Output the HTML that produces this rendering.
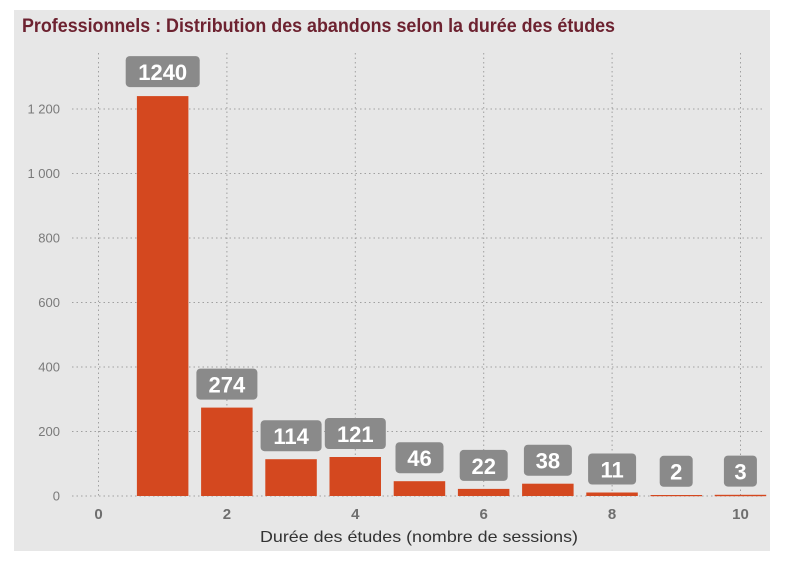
<!DOCTYPE html>
<html><head><meta charset="utf-8"><style>
html,body{margin:0;padding:0;background:#fff;}
svg{display:block;}
</style></head><body>
<svg width="785" height="564" viewBox="0 0 785 564" xmlns="http://www.w3.org/2000/svg" font-family="'Liberation Sans', sans-serif">
<rect x="0" y="0" width="785" height="564" fill="#ffffff"/>
<rect x="14" y="10" width="756" height="541" fill="#e7e7e7"/>
<text x="22" y="32" font-size="19" font-weight="bold" fill="#6d2230" textLength="593" lengthAdjust="spacingAndGlyphs">Professionnels : Distribution des abandons selon la durée des études</text>
<g stroke="#a0a0a0" stroke-width="1" stroke-dasharray="1.5,3" fill="none">
<line x1="72" y1="109" x2="762" y2="109"/>
<line x1="72" y1="173.5" x2="762" y2="173.5"/>
<line x1="72" y1="238" x2="762" y2="238"/>
<line x1="72" y1="302.5" x2="762" y2="302.5"/>
<line x1="72" y1="367" x2="762" y2="367"/>
<line x1="72" y1="431.5" x2="762" y2="431.5"/>
<line x1="72" y1="496" x2="762" y2="496"/>
<line x1="98.5" y1="53" x2="98.5" y2="496"/>
<line x1="226.9" y1="53" x2="226.9" y2="496"/>
<line x1="355.3" y1="53" x2="355.3" y2="496"/>
<line x1="483.7" y1="53" x2="483.7" y2="496"/>
<line x1="612.1" y1="53" x2="612.1" y2="496"/>
<line x1="740.5" y1="53" x2="740.5" y2="496"/>
</g>
<g font-size="13" fill="#7a7a7a" text-anchor="end">
<text x="60" y="113.5">1 200</text>
<text x="60" y="178">1 000</text>
<text x="60" y="242.5">800</text>
<text x="60" y="307">600</text>
<text x="60" y="371.5">400</text>
<text x="60" y="436">200</text>
<text x="60" y="500.5">0</text>
</g>
<g fill="#d4481f">
<rect x="136.9" y="96.1" width="51.5" height="399.9"/>
<rect x="201.1" y="407.6" width="51.5" height="88.4"/>
<rect x="265.3" y="459.2" width="51.5" height="36.8"/>
<rect x="329.5" y="457" width="51.5" height="39"/>
<rect x="393.7" y="481.2" width="51.5" height="14.8"/>
<rect x="457.9" y="488.9" width="51.5" height="7.1"/>
<rect x="522.1" y="483.7" width="51.5" height="12.3"/>
<rect x="586.3" y="492.5" width="51.5" height="3.5"/>
<rect x="650.5" y="495" width="51.5" height="1.2"/>
<rect x="714.7" y="494.8" width="51.5" height="1.4"/>
</g>
<g fill="#8a8a8a">
<rect x="125.7" y="56.1" width="74" height="31" rx="4"/>
<rect x="196.4" y="368.6" width="61" height="31" rx="4"/>
<rect x="260.6" y="420.2" width="61" height="31" rx="4"/>
<rect x="324.8" y="418" width="61" height="31" rx="4"/>
<rect x="395.5" y="442.2" width="48" height="31" rx="4"/>
<rect x="459.7" y="449.9" width="48" height="31" rx="4"/>
<rect x="523.9" y="444.7" width="48" height="31" rx="4"/>
<rect x="588.1" y="453.5" width="48" height="31" rx="4"/>
<rect x="659.7" y="455.8" width="33" height="31" rx="4"/>
<rect x="723.9" y="455.6" width="33" height="31" rx="4"/>
</g>
<g font-size="22" font-weight="bold" fill="#ffffff" text-anchor="middle">
<text x="162.7" y="80">1240</text>
<text x="226.9" y="392.5">274</text>
<text x="291.1" y="444.1">114</text>
<text x="355.3" y="441.9">121</text>
<text x="419.5" y="466.1">46</text>
<text x="483.7" y="473.8">22</text>
<text x="547.9" y="468.6">38</text>
<text x="612.1" y="477.4">11</text>
<text x="676.3" y="479.7">2</text>
<text x="740.5" y="479.5">3</text>
</g>
<g font-size="15" font-weight="bold" fill="#6e6e6e" text-anchor="middle">
<text x="98.5" y="519">0</text>
<text x="226.9" y="519">2</text>
<text x="355.3" y="519">4</text>
<text x="483.7" y="519">6</text>
<text x="612.1" y="519">8</text>
<text x="740.5" y="519">10</text>
</g>
<text x="260" y="542" font-size="16" fill="#333333" textLength="318" lengthAdjust="spacingAndGlyphs">Durée des études (nombre de sessions)</text>
</svg>
</body></html>
